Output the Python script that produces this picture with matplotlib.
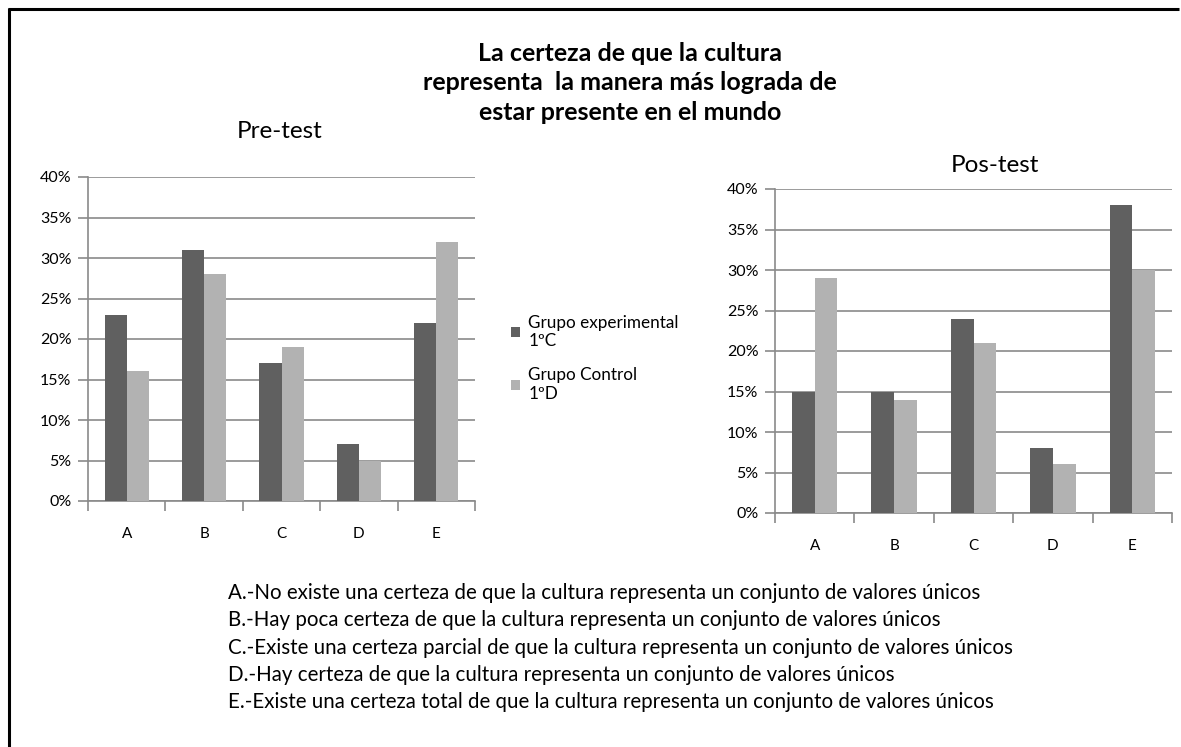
import matplotlib
matplotlib.use("Agg")
import matplotlib.pyplot as plt
from matplotlib.lines import Line2D
from matplotlib.ticker import FuncFormatter, FixedLocator
import numpy as np

plt.rcParams['font.family'] = ['Lato', 'DejaVu Sans']

# --- Data ---
categorias = ['A', 'B', 'C', 'D', 'E']
pre_experimental = [23, 31, 17, 7, 22]
pre_control = [16, 28, 19, 5, 32]
pos_experimental = [15, 15, 24, 8, 38]
pos_control = [29, 14, 21, 6, 30]

series_labels = ['Grupo experimental\n1ºC', 'Grupo Control\n1ºD']
titulo = ('La certeza de que la cultura\n'
          'representa  la manera más lograda de\n'
          'estar presente en el mundo')
descripciones = [
    'A.-No existe una certeza de que la cultura representa un conjunto de valores únicos',
    'B.-Hay poca certeza de que la cultura representa un conjunto de valores únicos',
    'C.-Existe una certeza parcial de que la cultura representa un conjunto de valores únicos',
    'D.-Hay certeza de que la cultura representa un conjunto de valores únicos',
    'E.-Existe una certeza total de que la cultura representa un conjunto de valores únicos',
]

W, H = 1181, 747
DARK = '#606060'
LIGHT = '#b2b2b2'
AXIS = '#8a8a8a'


def px_rect(x0, y0, x1, y1):
    """Pixel box (top-left origin) -> figure fraction rect."""
    return [x0 / W, 1 - y1 / H, (x1 - x0) / W, (y1 - y0) / H]


def draw_panel(ax, exp_vals, ctrl_vals):
    x = np.arange(len(categorias))
    bw = 1 / 3.5
    b1 = ax.bar(x - bw / 2, exp_vals, bw, color=DARK, zorder=3)
    b2 = ax.bar(x + bw / 2, ctrl_vals, bw, color=LIGHT, zorder=3)
    ax.set_xlim(-0.5, len(categorias) - 0.5)
    ax.set_ylim(0, 40)
    ax.set_yticks(range(0, 41, 5))
    ax.yaxis.set_major_formatter(FuncFormatter(lambda v, p: f'{int(v)}%'))
    ax.yaxis.grid(True, color=AXIS, linewidth=1.2, zorder=0)
    ax.set_xticks(x)
    ax.set_xticklabels(categorias)
    ax.xaxis.set_minor_locator(FixedLocator(np.arange(-0.5, len(categorias), 1)))
    ax.tick_params(axis='x', which='major', length=0, pad=19, labelsize=11)
    ax.tick_params(axis='x', which='minor', length=7, width=1.2, color=AXIS)
    ax.tick_params(axis='y', length=7, width=1.2, color=AXIS, pad=5, labelsize=11.5)
    for side in ['top', 'right']:
        ax.spines[side].set_visible(False)
    for side in ['left', 'bottom']:
        ax.spines[side].set_color(AXIS)
        ax.spines[side].set_linewidth(1.2)
    return b1, b2


fig = plt.figure(figsize=(W / 100, H / 100), dpi=100)

ax1 = fig.add_axes(px_rect(88, 177, 475, 501))
bars = draw_panel(ax1, pre_experimental, pre_control)
ax2 = fig.add_axes(px_rect(775, 189, 1172, 513))
draw_panel(ax2, pos_experimental, pos_control)

fig.text(630 / W, 1 - 83 / H, titulo, ha='center', va='center',
         fontsize=18, fontweight='bold', linespacing=1.35)
fig.text(280 / W, 1 - 131 / H, 'Pre-test', ha='center', va='center', fontsize=17.5)
fig.text(995 / W, 1 - 166 / H, 'Pos-test', ha='center', va='center', fontsize=17.5)

fig.legend(bars, series_labels, loc='upper left',
           bbox_to_anchor=(502 / W, 1 - 306 / H), frameon=False,
           fontsize=12.3, handlelength=0.55, handleheight=0.55,
           handletextpad=0.5, labelspacing=1.05, borderpad=0)

for i, linea in enumerate(descripciones):
    fig.text(228 / W, 1 - (593 + i * 27.3) / H, linea, ha='left', va='center',
             fontsize=14.8)

# frame lines visible on the left and top edges
fig.add_artist(Line2D([9 / W, 9 / W], [0, 1 - 8 / H], color='black',
                      linewidth=2.2, solid_capstyle='butt'))
fig.add_artist(Line2D([8 / W, 1179 / W], [1 - 9 / H, 1 - 9 / H], color='black',
                      linewidth=2.2, solid_capstyle='butt'))

fig.savefig('out.png', dpi=100)
